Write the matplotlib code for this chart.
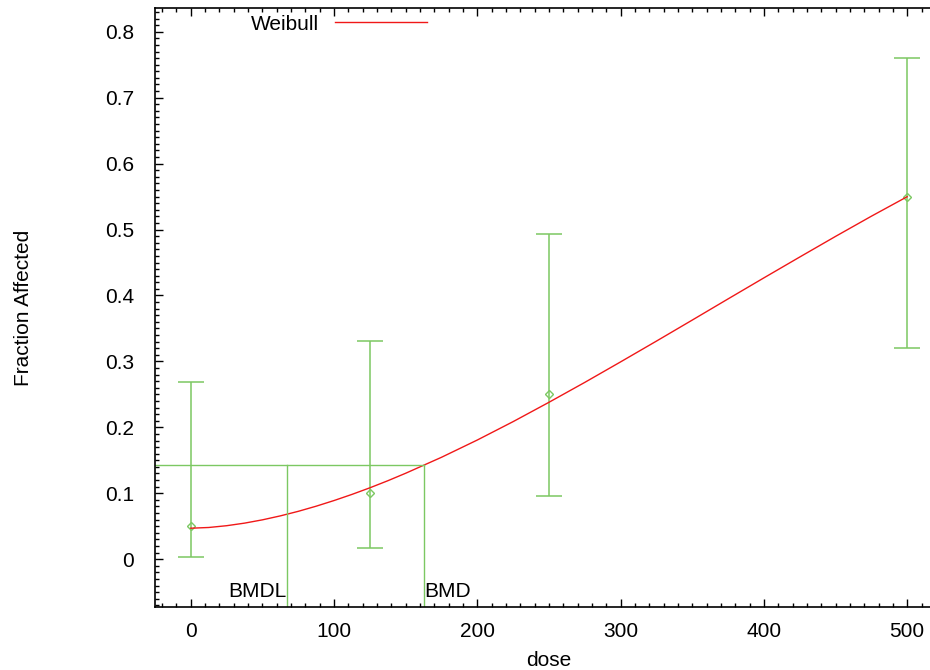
import matplotlib.pyplot as plt
from matplotlib.ticker import MultipleLocator

plt.rcParams['font.family'] = ['Liberation Sans', 'DejaVu Sans']

# observed data (dose groups)
dose = [0, 125, 250, 500]
frac = [0.05, 0.10, 0.25, 0.55]
lower = [0.0026, 0.017, 0.0956, 0.320]
upper = [0.269, 0.331, 0.493, 0.760]

# fitted Weibull curve
curve_dose = [0, 12.5, 25, 37.5, 50, 62.5, 75, 87.5, 100, 112.5, 125, 137.5, 150,
              175, 200, 225, 250, 275, 300, 325, 350, 375, 400, 425, 450, 475, 500]
curve_frac = [0.047, 0.0481, 0.0508, 0.0547, 0.0597, 0.0657, 0.0726, 0.0804,
              0.0890, 0.0983, 0.1083, 0.1190, 0.1304, 0.1546, 0.1808, 0.2087,
              0.2380, 0.2682, 0.2993, 0.3308, 0.3627, 0.3948, 0.4267, 0.4583,
              0.4896, 0.5202, 0.5498]

bmr_level = 0.143
bmd = 162.6
bmdl = 66.8

green = '#7cc862'
red = '#f01818'

xlim = (-25, 525)
ylim = (-0.0725, 0.836)
fs = 15

fig = plt.figure(figsize=(9.3, 6.7), dpi=100)
ax = fig.add_axes([155 / 930, 63 / 670, 788 / 930, 599 / 670])

yerr = [[f - l for f, l in zip(frac, lower)], [u - f for f, u in zip(frac, upper)]]
ax.errorbar(dose, frac, yerr=yerr, fmt='none', ecolor=green, elinewidth=1.1,
            capsize=9.5, capthick=1.1)
ax.plot(dose, frac, 'D', ms=4, mfc='none', mec=green, mew=1.0, ls='none')

ax.plot(curve_dose, curve_frac, color=red, lw=1.0, label='Weibull')

# BMD / BMDL markers
ax.plot([xlim[0], bmd], [bmr_level, bmr_level], color=green, lw=1.0)
ax.plot([bmdl, bmdl], [ylim[0], bmr_level], color=green, lw=1.0)
ax.plot([bmd, bmd], [ylim[0], bmr_level], color=green, lw=1.0)
ax.text(bmdl, -0.057, 'BMDL', ha='right', va='baseline', fontsize=fs)
ax.text(bmd, -0.057, 'BMD', ha='left', va='baseline', fontsize=fs)

ax.set_xlim(xlim)
ax.set_ylim(ylim)
ax.xaxis.set_major_locator(MultipleLocator(100))
ax.xaxis.set_minor_locator(MultipleLocator(10))
ax.yaxis.set_major_locator(MultipleLocator(0.1))
ax.yaxis.set_minor_locator(MultipleLocator(0.01))
ax.yaxis.set_major_formatter(plt.FuncFormatter(lambda v, p: f'{v:.1f}' if abs(v) > 1e-9 else '0'))

ax.tick_params(which='both', direction='in', top=True, right=True, width=1.0, labelsize=fs)
ax.tick_params(which='major', length=6)
ax.tick_params(which='minor', length=3)
ax.tick_params(axis='x', which='major', pad=11)
ax.tick_params(axis='y', which='major', pad=15)
for s in ax.spines.values():
    s.set_linewidth(1.2)

ax.set_xlabel('dose', fontsize=fs, labelpad=7)
ax.set_ylabel('Fraction Affected', fontsize=fs, labelpad=52)

ax.legend(loc='upper left', bbox_to_anchor=(236 / 930, 1.0),
          bbox_transform=fig.transFigure, frameon=False, markerfirst=False,
          fontsize=fs, handlelength=4.4, borderaxespad=0.3)

fig.savefig('out.png', dpi=100)
